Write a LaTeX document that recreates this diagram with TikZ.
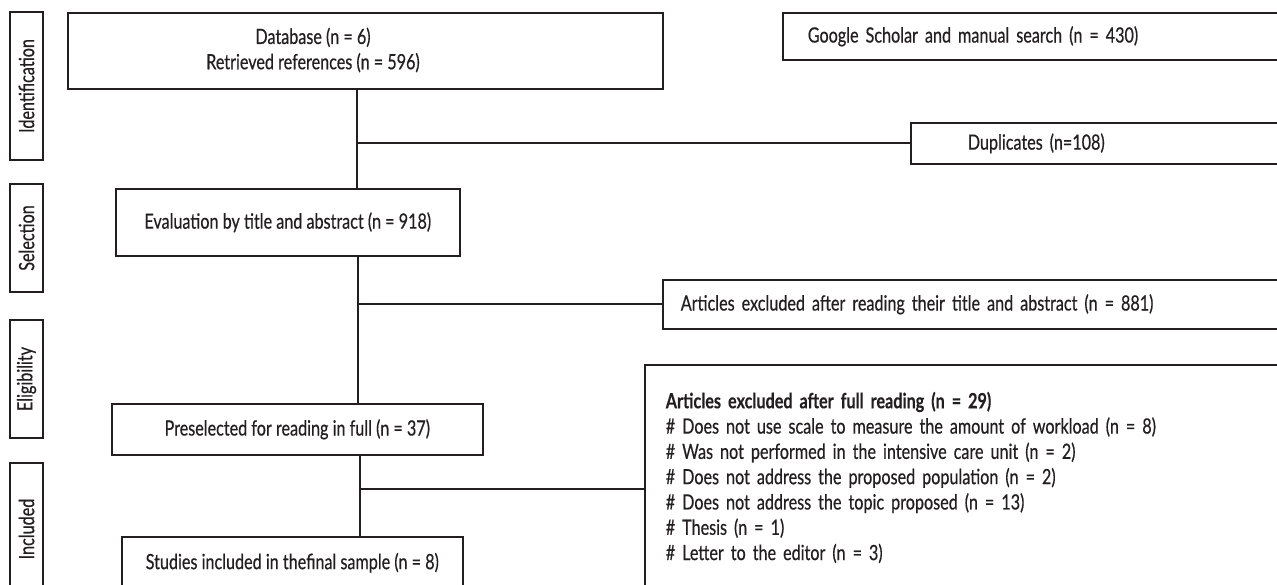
\documentclass[tikz,border=0pt]{standalone}
\usepackage{fontspec}
\setmainfont[FakeStretch=0.77, UprightFeatures={FakeBold=0.5}, BoldFont={Lato Bold}, BoldFeatures={FakeBold=0.3}]{Lato}
\definecolor{ink}{RGB}{35,31,32}

\begin{document}
\begin{tikzpicture}[x=1pt, y=-1pt,
    font=\fontsize{21}{25.3}\selectfont, text=ink,
    box/.style={draw=ink, line width=1.6pt, rectangle, inner sep=0pt, anchor=north west},
    phase/.style={draw=ink, line width=1.6pt, rectangle, inner sep=0pt, rotate=90, minimum height=33},
    link/.style={draw=ink, line width=1.6pt}]
    \useasboundingbox (0,0) rectangle (1277,585);
    \clip (0,0) rectangle (1277,585);

    % phases
    \node[phase, minimum width=148] (id)  at (26.5, 86) {Identification};
    \node[phase, minimum width=108] (sel) at (26.5,238) {Selection};
    \node[phase, minimum width=118] (eli) at (26.5,379) {Eligibility};
    \node[phase, minimum width=132] (inc) at (26.5,529) {Included};

    % main column
    \node[box, minimum width=595, minimum height=76] (db) at (67,12) {};
    \node[align=center] (dbtext) at (313,50) {Database (n = 6)\\Retrieved references (n = 596)};
    \node[box, minimum width=344, minimum height=67, align=center] (ev) at (115,188) {Evaluation by title and abstract (n = 918)};
    \node[box, minimum width=371, minimum height=51, align=center] (pre) at (111,403) {Preselected for reading in full (n = 37)};
    \node[box, minimum width=341, minimum height=52, align=center] (st) at (121,536) {Studies included in thefinal sample (n = 8)};

    % right column
    \node[box, minimum height=47, inner xsep=25, text width=470, align=left] (gs) at (782,12) {Google Scholar and manual search (n = 430)};
    \node[box, minimum height=41, inner xsep=57, text width=400, align=left] (dup) at (910,122) {Duplicates (n=108)};
    \node[box, minimum height=49, inner xsep=18, text width=620, align=left] (ex1) at (662,279) {Articles excluded after reading their title and abstract (n = 881)};
    \node[box, inner xsep=21, inner ysep=27, text width=640, align=left] (ex2) at (644,364) {\textbf{Articles excluded after full reading (n = 29)}\\
        \# Does not use scale to measure the amount of workload (n = 8)\\
        \# Was not performed in the intensive care unit (n = 2)\\
        \# Does not address the proposed population (n = 2)\\
        \# Does not address the topic proposed (n = 13)\\
        \# Thesis (n = 1)\\
        \# Letter to the editor (n = 3)};

    % connectors
    \coordinate (t1) at (357,0);
    \coordinate (t2) at (358,0);
    \coordinate (t3) at (360,0);
    \coordinate (j3) at (360,489);
    \draw[link] (t1 |- db.south) -- (t1 |- ev.north);
    \draw[link] (t1 |- dup.west) -- (dup.west);
    \draw[link] (t2 |- ev.south) -- (t2 |- pre.north);
    \draw[link] (t2 |- ex1.west) -- (ex1.west);
    \draw[link] (t3 |- pre.south) -- (t3 |- st.north);
    \draw[link] (j3) -- (j3 -| ex2.west);
\end{tikzpicture}
\end{document}
